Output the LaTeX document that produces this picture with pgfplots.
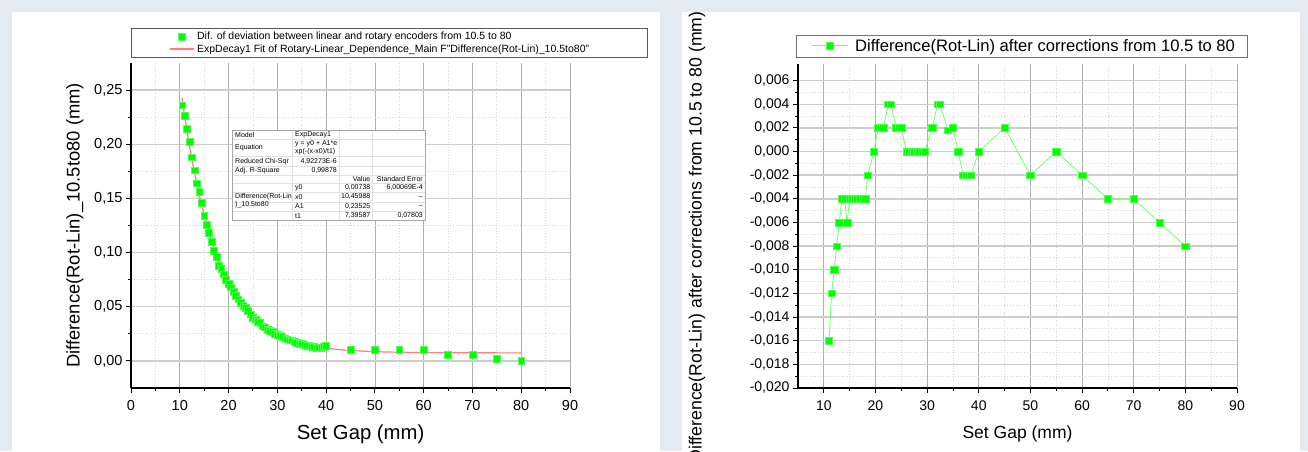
\documentclass[border=0pt]{standalone}
\usepackage{fontspec}
\setmainfont{Liberation Sans}
\usepackage{pgfplots}
\pgfplotsset{compat=1.18}
\definecolor{bgc}{RGB}{227,234,242}
\definecolor{mkg}{RGB}{0,255,0}
\definecolor{mkedge}{RGB}{80,255,80}
\definecolor{fitc}{RGB}{255,125,125}
\definecolor{lineg}{RGB}{110,255,110}
\definecolor{gmajx}{RGB}{175,175,175}
\definecolor{gmajy}{RGB}{205,205,205}
\definecolor{gmin}{RGB}{215,215,215}
\definecolor{tabline}{RGB}{225,225,225}
\pgfplotsset{
  myaxis/.style={
    scale only axis,
    axis x line=bottom, axis y line=left,
    axis line style={-, line width=1.3pt, black},
    tick align=outside, major tick length=5pt, minor tick length=3pt,
    every tick/.style={black, line width=0.9pt},
    minor x tick num=1, minor y tick num=1,
    grid=both,
    major x grid style={gmajx, line width=0.7pt},
    major y grid style={gmajy, line width=1.4pt},
    minor x grid style={gmin, line width=0.7pt, dotted},
    minor y grid style={gmin, line width=0.9pt, dotted},
    /pgf/number format/assume math mode=true,
    scaled ticks=false,
    clip=false,
    x tick label style={yshift=-4pt},
    legend image code/.code={\draw[mark repeat=2,mark phase=2,##1] plot coordinates {(0pt,0pt)(12pt,0pt)(24pt,0pt)};},
  }
}
\begin{document}
\begin{tikzpicture}
\useasboundingbox (0,0) rectangle (1308pt,451pt);
\fill[bgc] (0,0) rectangle (1308pt,451pt);
\fill[white] (12pt,0) rectangle (660pt,439pt);
\fill[white] (682pt,0) rectangle (1300pt,439pt);

% ---------------- left panel ----------------
\begin{axis}[myaxis,
  at={(131pt,63pt)}, anchor=south west,
  width=439pt, height=325pt,
  xmin=0, xmax=90, ymin=-0.025, ymax=0.275,
  xtick={0,10,20,30,40,50,60,70,80,90},
  ytick={0,0.05,0.10,0.15,0.20,0.25},
  y tick label style={/pgf/number format/fixed, /pgf/number format/fixed zerofill, /pgf/number format/precision=2, /pgf/number format/use comma},
  tick label style={font=\fontsize{14.5}{17}\selectfont},
  xlabel={Set Gap (mm)},
  ylabel={Difference(Rot-Lin)\_10.5to80 (mm)},
  xlabel style={at={(axis description cs:0.523,-0.1415)}, anchor=center, font=\fontsize{20.3}{23}\selectfont},
  ylabel style={at={(axis description cs:-0.128,0.5)}, anchor=center, font=\fontsize{18.4}{21}\selectfont},
  legend style={at={(axis description cs:0.086,1.062)}, anchor=west, draw=none, fill=none,
    inner sep=0pt, row sep=0pt, column sep=2pt, nodes={inner xsep=1pt, inner ysep=1.6pt, anchor=west},
    font=\fontsize{10.5}{12}\selectfont},
  legend cell align=left,
]
\addplot[only marks, mark=square*, mark size=3.4pt, mark options={fill=mkg, draw=mkedge, line width=0.5pt}] coordinates {
(10.5,0.236)(11,0.226)(11.5,0.214)(12,0.202)(12.5,0.188)(13,0.176)(13.5,0.164)(14,0.156)
(14.5,0.146)(15,0.134)(15.5,0.126)(16,0.118)(16.5,0.110)(17,0.102)(17.5,0.096)(18,0.088)
(18.5,0.085)(19,0.080)(19.5,0.075)(20,0.071)(20.5,0.068)(21,0.064)(21.5,0.060)(22,0.057)
(22.5,0.054)(23,0.051)(23.5,0.049)(24,0.046)(24.5,0.043)(25,0.040)(25.5,0.038)(26,0.036)
(26.5,0.035)(27,0.032)(27.5,0.031)(28,0.029)(28.5,0.028)(29,0.027)(29.5,0.025)(30,0.024)
(30.5,0.023)(31,0.022)(31.5,0.021)(32,0.020)(32.5,0.019)(33,0.019)(33.5,0.018)(34,0.017)
(34.5,0.016)(35,0.016)(35.5,0.015)(36,0.014)(36.5,0.014)(37,0.013)(37.5,0.013)(38,0.012)
(38.5,0.012)(39,0.012)(39.5,0.013)(40,0.014)
(45,0.010)(50,0.010)(55,0.010)(60,0.010)(65,0.006)(70,0.006)(75,0.002)(80,0.000)
};
\addlegendentry{Dif. of deviation between linear and rotary encoders from 10.5 to 80}
\addplot[fitc, line width=1.2pt, mark=none] coordinates {
(10.46,0.2426)(10.5,0.2413)(11,0.2261)(11.5,0.2118)(12,0.1984)(12.5,0.1860)(13,0.1743)
(13.5,0.1634)(14,0.1532)(14.5,0.1437)(15,0.1347)(15.5,0.1264)(16,0.1186)(16.5,0.1114)
(17,0.1046)(17.5,0.0982)(18,0.0923)(18.5,0.0867)(19,0.0816)(19.5,0.0767)(20,0.0722)
(21,0.0640)(22,0.0568)(23,0.0506)(24,0.0451)(25,0.0404)(26,0.0362)(27,0.0325)(28,0.0294)
(29,0.0266)(30,0.0242)(32,0.0202)(34,0.0172)(36,0.0148)(38,0.0131)(40,0.0117)(43,0.0103)
(45,0.0096)(50,0.0085)(55,0.0080)(60,0.0077)(70,0.0075)(80,0.0074)
};
\addlegendentry{ExpDecay1 Fit of Rotary-Linear\_Dependence\_Main F"Difference(Rot-Lin)\_10.5to80"}
\end{axis}
\draw[black!65, line width=0.9pt] (131pt,394pt) rectangle (647pt,423pt);

% fit result table
\begin{scope}[every node/.style={font=\fontsize{7}{8}\selectfont, inner sep=0pt}]
\fill[white] (232.7pt,231pt) rectangle (425pt,321pt);
\foreach \yy in {312,294.5,285,276,267.3,258.3,248.7,239.3}{\draw[tabline, line width=0.5pt] (232.7pt,\yy pt) -- (425pt,\yy pt);}
\foreach \xx in {292.7,339.3,372.7}{\draw[tabline, line width=0.5pt] (\xx pt,231pt) -- (\xx pt,321pt);}
\draw[black!35, line width=0.6pt] (232.7pt,231pt) rectangle (425pt,321pt);
\node[anchor=west] at (235pt,316pt) {Model};
\node[anchor=west] at (295pt,316pt) {ExpDecay1};
\node[anchor=west] at (235pt,303.5pt) {Equation};
\node[anchor=west] at (295pt,307.5pt) {y = y0 + A1*e};
\node[anchor=west] at (295pt,299.5pt) {xp(-(x-x0)/t1)};
\node[anchor=west] at (235pt,289.7pt) {Reduced Chi-Sqr};
\node[anchor=east] at (337pt,289.7pt) {4,92273E-6};
\node[anchor=west] at (235pt,280.3pt) {Adj. R-Square};
\node[anchor=east] at (337pt,280.3pt) {0,99878};
\node[anchor=east] at (370.5pt,271.7pt) {Value};
\node[anchor=east] at (423pt,271.7pt) {Standard Error};
\node[anchor=west] at (295pt,263pt) {y0};
\node[anchor=east] at (370.5pt,263pt) {0,00738};
\node[anchor=east] at (423pt,263pt) {6,00069E-4};
\node[anchor=west] at (295pt,254pt) {x0};
\node[anchor=east] at (370.5pt,254pt) {10,45988};
\node[anchor=east] at (423pt,254pt) {--};
\node[anchor=west] at (295pt,244.5pt) {A1};
\node[anchor=east] at (370.5pt,244.5pt) {0,23525};
\node[anchor=east] at (423pt,244.5pt) {--};
\node[anchor=west] at (295pt,235.3pt) {t1};
\node[anchor=east] at (370.5pt,235.3pt) {7,39587};
\node[anchor=east] at (423pt,235.3pt) {0,07803};
\node[anchor=west] at (235pt,254.5pt) {Difference(Rot-Lin};
\node[anchor=west] at (235pt,246.5pt) {)\_10.5to80};
\end{scope}

% ---------------- right panel ----------------
\begin{scope}
\clip (682pt,0pt) rectangle (1300pt,439pt);
\begin{axis}[myaxis,
  at={(798pt,63pt)}, anchor=south west,
  width=439pt, height=324pt,
  xmin=5, xmax=90, ymin=-0.020, ymax=0.0074,
  xtick={10,20,30,40,50,60,70,80,90},
  ytick={-0.020,-0.018,-0.016,-0.014,-0.012,-0.010,-0.008,-0.006,-0.004,-0.002,0,0.002,0.004,0.006},
  y tick label style={/pgf/number format/fixed, /pgf/number format/fixed zerofill, /pgf/number format/precision=3, /pgf/number format/use comma},
  tick label style={font=\fontsize{14}{17}\selectfont},
  xlabel={Set Gap (mm)},
  ylabel={Difference(Rot-Lin) after corrections from 10.5 to 80 (mm)},
  xlabel style={at={(axis description cs:0.5,-0.1415)}, anchor=center, font=\fontsize{17.5}{21}\selectfont},
  ylabel style={at={(axis description cs:-0.230,0.466)}, anchor=center, font=\fontsize{17.7}{20}\selectfont},
  legend image code/.code={\draw[mark repeat=2,mark phase=2,#1] plot coordinates {(0pt,0pt)(18pt,0pt)(36pt,0pt)};},
  legend style={at={(axis description cs:0.030,1.056)}, anchor=west, draw=none, fill=none,
    inner sep=0pt, column sep=6pt, nodes={inner sep=1pt, anchor=west},
    font=\fontsize{16.6}{19}\selectfont},
]
\addplot[lineg, line width=0.8pt, mark=square*, mark size=3.3pt, mark options={fill=mkg, draw=mkedge, xscale=1.12, line width=0.5pt}] coordinates {
(11,-0.016)(11.5,-0.012)(12,-0.010)(12.5,-0.008)(13,-0.006)(13.5,-0.004)(14,-0.004)(14.5,-0.006)
(15,-0.004)(15.5,-0.004)(16,-0.004)(16.5,-0.004)(17,-0.004)(17.5,-0.004)(18,-0.004)(18.5,-0.002)
(19.7,0.000)(20.5,0.002)(21,0.002)(21.5,0.002)(22.5,0.004)(23,0.004)(24,0.002)(24.5,0.002)(25,0.002)
(26,0)(26.5,0)(27,0)(27.5,0)(28,0)(28.5,0)(29,0)(29.5,0)(31,0.002)(32,0.004)(32.5,0.004)
(34,0.0018)(35,0.002)(36,0)(37,-0.002)(37.5,-0.002)(38,-0.002)(38.5,-0.002)(40,0)
(45,0.002)(50,-0.002)(55,0)(60,-0.002)(65,-0.004)(70,-0.004)(75,-0.006)(80,-0.008)
};
\addlegendentry{Difference(Rot-Lin) after corrections from 10.5 to 80}
\end{axis}
\end{scope}
\draw[black!55, line width=0.9pt] (796pt,394pt) rectangle (1247pt,416pt);
\end{tikzpicture}
\end{document}
